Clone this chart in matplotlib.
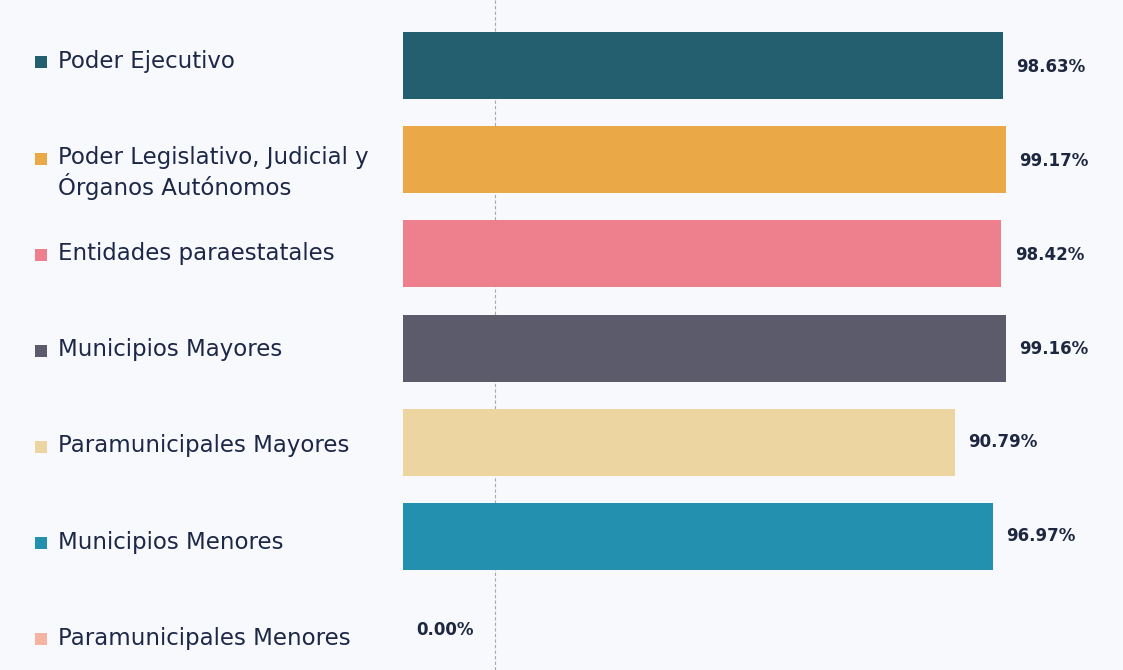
import matplotlib
matplotlib.use("Agg")
import matplotlib.pyplot as plt
import matplotlib.transforms as mtransforms
from matplotlib.patches import Rectangle

categories = [
    "Poder Ejecutivo",
    "Poder Legislativo, Judicial y\nÓrganos Autónomos",
    "Entidades paraestatales",
    "Municipios Mayores",
    "Paramunicipales Mayores",
    "Municipios Menores",
    "Paramunicipales Menores",
]
values = [98.63, 99.17, 98.42, 99.16, 90.79, 96.97, 0.00]
value_labels = ["98.63%", "99.17%", "98.42%", "99.16%", "90.79%", "96.97%", "0.00%"]
colors = ["#235f6e", "#eaa847", "#ee7f8c", "#5c5b6b", "#ecd5a0", "#2490b0", "#f5b4a2"]

W, H = 1123, 670
bg = "#f8f9fc"
fig = plt.figure(figsize=(W / 100, H / 100), dpi=100, facecolor=bg)
ax = fig.add_axes([403 / W, 0, 608 / W, 1])
ax.set_facecolor("none")

step = 94.2
top_c = 65.5
ax.set_xlim(0, 100)
ax.set_ylim((H - top_c) / step, -top_c / step)
ax.axis("off")

# faint dashed vertical line
ax.axvline(15.1, color="#a8a8b2", lw=0.8, ls=(0, (3, 2)), zorder=0)

ypos = list(range(len(categories)))
ax.barh(ypos, values, height=0.71, color=colors, zorder=2)

for y, v, lab in zip(ypos, values, value_labels):
    ax.text(v + 2.2, y + 0.02 - 0.03 * (y / 6), lab, ha="left", va="center", fontsize=12,
            fontweight="bold", color="#1e2740", family="DejaVu Sans")

tr = mtransforms.blended_transform_factory(fig.transFigure, ax.transData)
line_h = 29 / step
for y, cat, col in zip(ypos, categories, colors):
    lines = cat.split("\n")
    base = y + (-4 + 1.9 * y) / step
    for k, ln in enumerate(lines):
        ax.text(58 / W, base + k * line_h, ln, transform=tr, ha="left", va="center",
                fontsize=16.5, color="#1d2848", family="DejaVu Sans")
    sq = 12
    ax.add_patch(Rectangle((35 / W, base - sq / 2 / step + 0.01), sq / W, sq / step,
                           transform=tr, facecolor=col, edgecolor="none", clip_on=False))

fig.savefig("out.png", dpi=100, facecolor=bg)
